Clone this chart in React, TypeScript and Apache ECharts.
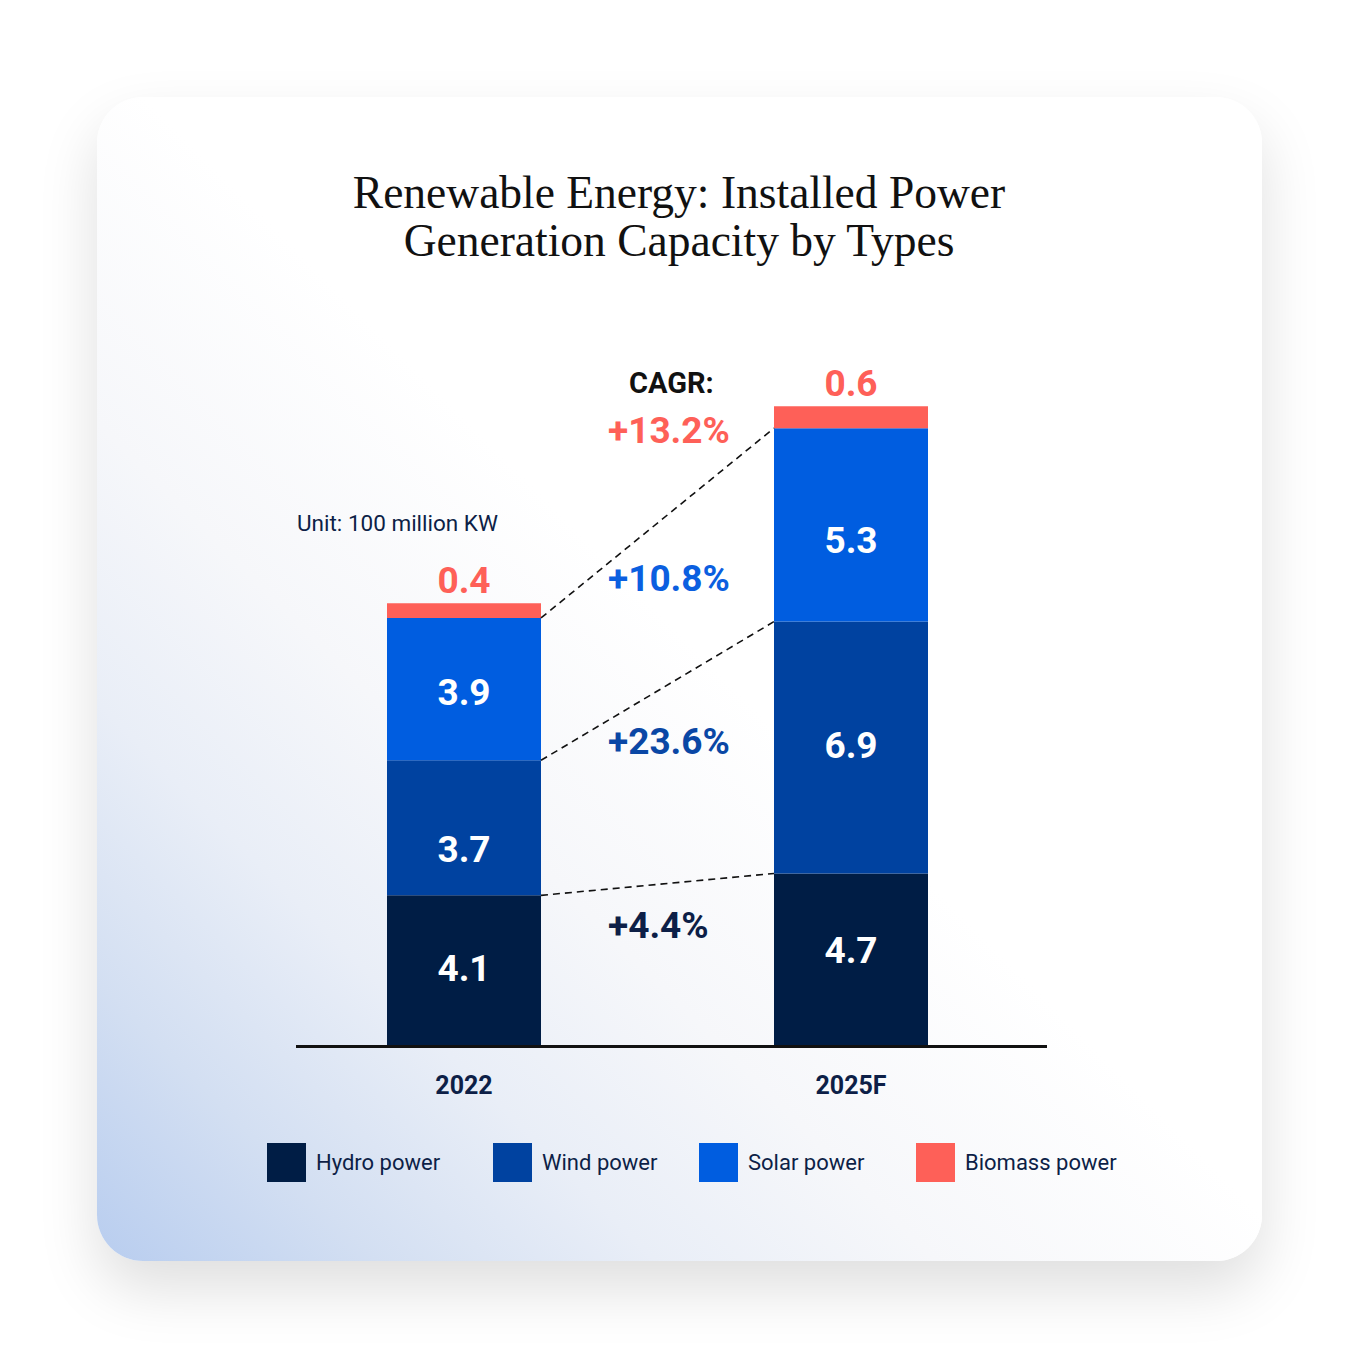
import React, { useEffect, useRef } from "react";
import * as echarts from "echarts";

const categories = ["2022", "2025F"];
const hydro = [4.1, 4.7];
const wind = [3.7, 6.9];
const solar = [3.9, 5.3];
const biomass = [0.4, 0.6];
const seriesNames = ["Hydro power", "Wind power", "Solar power", "Biomass power"];
const cagrLabels = ["+13.2%", "+10.8%", "+23.6%", "+4.4%"];
const titleText = "Renewable Energy: Installed Power\nGeneration Capacity by Types";
const unitText = "Unit: 100 million KW";
const cagrTitle = "CAGR:";

// styling (not data)
const colors = ["#001d45", "#0042a0", "#005de0", "#fe6058"];
const cagrColors = ["#fe6058", "#0b5fe0", "#0a47a5", "#0d1f47"];
const cagrY = [430, 578, 741, 925];
const hydroShift = [-2, -9];
const windShift = [22, -2];
const solarShift = [3, 16];
const legendLeft = [267, 493, 699, 916];
const FONT = "Roboto, sans-serif";
const BAR_W = 154;

export default function App() {
  const ref = useRef<HTMLDivElement>(null);
  useEffect(() => {
    if (!ref.current) return;
    const chart = echarts.init(ref.current, undefined, { renderer: "svg" });

    const cum1 = hydro.map((v) => v);
    const cum2 = hydro.map((v, i) => v + wind[i]);
    const cum3 = hydro.map((v, i) => v + wind[i] + solar[i]);
    const boundaries = [cum1, cum2, cum3].map((c) => [0, c[0], c[1]]);

    const innerLabel = (shift: number[]) => (v: number, i: number) => ({
      value: v,
      label: { offset: [0, shift[i]] },
    });

    const barBase = {
      type: "bar",
      stack: "total",
      barWidth: BAR_W,
    };
    const insideLabel = {
      show: true,
      position: "inside",
      color: "#ffffff",
      fontFamily: FONT,
      fontWeight: "bold",
      fontSize: 37,
      formatter: (p: any) => Number(p.value).toFixed(1),
    };

    const option: any = {
      animation: false,
      backgroundColor: "transparent",
      title: {
        text: titleText,
        left: "center",
        top: 163,
        textStyle: {
          fontFamily: "'Liberation Serif', serif",
          fontWeight: "normal",
          fontSize: 45.5,
          lineHeight: 48,
          color: "#111111",
        },
      },
      grid: { left: 270.5, right: 313.5, top: 315, bottom: 313 },
      xAxis: {
        type: "category",
        data: categories,
        axisLine: { show: false },
        axisTick: { show: false },
        axisLabel: {
          margin: 28,
          fontFamily: FONT,
          fontWeight: "bold",
          fontSize: 25,
          color: "#0d1f47",
        },
      },
      yAxis: {
        type: "value",
        min: 0,
        max: 20,
        show: false,
        splitLine: { show: false },
      },
      legend: seriesNames.map((n, i) => ({
        data: [n],
        left: legendLeft[i],
        top: 1143,
        padding: 0,
        icon: "rect",
        itemWidth: 39,
        itemHeight: 39,
        selectedMode: false,
        textStyle: {
          fontFamily: FONT,
          fontSize: 22,
          color: "#0d1f47",
          padding: [0, 0, 0, 5],
        },
      })),
      series: [
        {
          ...barBase,
          name: seriesNames[0],
          itemStyle: { color: colors[0] },
          label: insideLabel,
          data: hydro.map(innerLabel(hydroShift)),
        },
        {
          ...barBase,
          name: seriesNames[1],
          itemStyle: { color: colors[1] },
          label: insideLabel,
          data: wind.map(innerLabel(windShift)),
        },
        {
          ...barBase,
          name: seriesNames[2],
          itemStyle: { color: colors[2] },
          label: insideLabel,
          data: solar.map(innerLabel(solarShift)),
        },
        {
          ...barBase,
          name: seriesNames[3],
          itemStyle: { color: colors[3] },
          label: {
            show: true,
            position: "top",
            distance: 4,
            color: colors[3],
            fontFamily: FONT,
            fontWeight: "bold",
            fontSize: 37,
            formatter: (p: any) => Number(p.value).toFixed(1),
          },
          data: biomass,
        },
        {
          type: "custom",
          name: "connectors",
          silent: true,
          z: 5,
          encode: { x: 0, y: [1, 2] },
          data: boundaries,
          renderItem: (params: any, api: any) => {
            const a = api.coord([0, api.value(1)]);
            const b = api.coord([1, api.value(2)]);
            return {
              type: "line",
              shape: { x1: a[0] + BAR_W / 2, y1: a[1], x2: b[0] - BAR_W / 2, y2: b[1] },
              style: { stroke: "#111111", lineWidth: 1.6, lineDash: [7, 5] },
            };
          },
        },
      ],
      graphic: [
        {
          type: "line",
          shape: { x1: 296, y1: 1046.5, x2: 1047, y2: 1046.5 },
          style: { stroke: "#111111", lineWidth: 3 },
          z: 10,
        },
        {
          type: "text",
          left: 297,
          top: 511,
          style: {
            text: unitText,
            font: `22.5px ${FONT}`,
            fill: "#0d1f47",
          },
        },
        {
          type: "text",
          x: 629,
          y: 383,
          style: {
            text: cagrTitle,
            font: `bold 29px ${FONT}`,
            fill: "#111111",
            verticalAlign: "middle",
          },
        },
        ...cagrLabels.map((t, i) => ({
          type: "text",
          x: 608,
          y: cagrY[i],
          style: {
            text: t,
            font: `bold 37px ${FONT}`,
            fill: cagrColors[i],
            verticalAlign: "middle",
          },
        })),
      ],
    };
    chart.setOption(option);
    return () => chart.dispose();
  }, []);

  return (
    <div
      style={{
        position: "fixed",
        left: 0,
        top: 0,
        width: 1358,
        height: 1358,
        background: "#ffffff",
        overflow: "hidden",
      }}
    >
      <div
        style={{
          position: "absolute",
          left: 97,
          top: 97,
          width: 1165,
          height: 1164,
          borderRadius: 46,
          background:
            "linear-gradient(45deg, #b8cdef 0%, #d3dff2 12%, #e9eef7 24%, #f6f7fa 36%, #ffffff 52%)",
          boxShadow: "0 28px 60px rgba(0,0,0,0.13)",
        }}
      />
      <div
        ref={ref}
        style={{ position: "absolute", left: 0, top: 0, width: 1358, height: 1358 }}
      />
    </div>
  );
}
